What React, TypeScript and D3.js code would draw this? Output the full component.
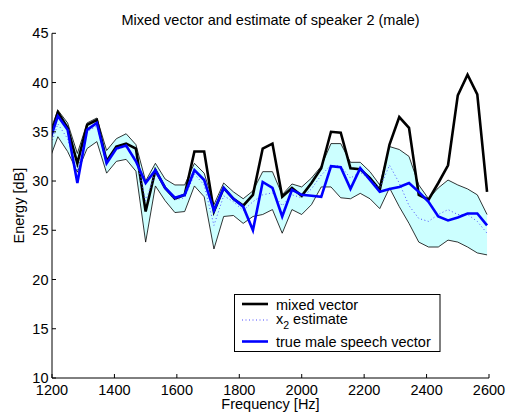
import React from 'react';
import * as d3 from 'd3';

// Frequency bins (Hz)
const freqs = [1187.5, 1218.75, 1250, 1281.25, 1312.5, 1343.75, 1375, 1406.25, 1437.5, 1468.75,
  1500, 1531.25, 1562.5, 1593.75, 1625, 1656.25, 1687.5, 1718.75, 1750, 1781.25,
  1812.5, 1843.75, 1875, 1906.25, 1937.5, 1968.75, 2000, 2031.25, 2062.5, 2093.75,
  2125, 2156.25, 2187.5, 2218.75, 2250, 2281.25, 2312.5, 2343.75, 2375, 2406.25,
  2437.5, 2468.75, 2500, 2531.25, 2562.5, 2593.75];

const mixedVector = [33.7, 37.0, 35.4, 31.8, 35.7, 36.2, 32.0, 33.5, 33.8, 33.3,
  26.9, 31.1, 29.3, 28.2, 28.6, 33.0, 33.0, 26.9, 29.3, 28.2,
  27.5, 28.6, 33.3, 33.8, 28.4, 29.3, 28.5, 29.8, 31.3, 35.0,
  34.9, 31.3, 31.2, 30.3, 29.1, 33.7, 36.5, 35.4, 28.6, 28.1,
  29.8, 31.6, 38.7, 40.8, 38.8, 28.9];

const trueMale = [33.6, 36.6, 35.2, 29.8, 35.2, 35.9, 31.8, 33.3, 33.6, 32.0,
  29.8, 31.1, 29.3, 28.3, 28.6, 31.1, 30.1, 27.0, 29.3, 28.2,
  27.4, 25.0, 29.9, 29.3, 26.4, 29.1, 28.6, 28.5, 28.4, 31.5,
  31.4, 29.2, 31.3, 30.1, 28.9, 29.2, 29.4, 29.8, 28.9, 27.9,
  26.4, 26.0, 26.3, 26.7, 26.7, 25.5];

const estimate = [32.8, 35.8, 34.3, 31.0, 35.0, 35.6, 32.0, 33.2, 33.5, 32.3,
  28.0, 30.8, 29.2, 28.1, 28.3, 30.7, 29.6, 25.5, 28.5, 27.9,
  27.0, 27.9, 28.6, 28.8, 27.5, 28.6, 28.3, 29.2, 30.6, 31.6,
  31.5, 30.3, 30.9, 30.1, 29.3, 31.6, 29.8, 27.5, 26.2, 25.9,
  26.6, 27.1, 26.6, 26.6, 25.9, 24.7];

const upperBound = [34.5, 37.2, 35.9, 32.8, 35.9, 36.4, 33.1, 34.3, 34.8, 33.7,
  30.0, 31.8, 30.2, 29.6, 29.6, 31.8, 30.8, 27.6, 29.8, 28.9,
  28.2, 29.0, 30.95, 30.95, 28.6, 29.7, 29.4, 30.3, 31.5, 33.8,
  33.8, 31.9, 31.9, 30.95, 29.6, 33.5, 33.2, 32.5, 29.6, 28.2,
  29.3, 30.1, 29.6, 29.2, 28.6, 26.6];

const lowerBound = [31.8, 34.5, 33.0, 30.9, 33.3, 34.0, 30.8, 32.0, 32.2, 31.0,
  23.8, 29.5, 28.0, 26.8, 26.9, 29.5, 28.4, 23.1, 26.4, 26.5,
  25.7, 26.4, 26.6, 27.1, 24.7, 27.1, 26.6, 27.6, 29.4, 29.4,
  28.3, 28.2, 28.75, 28.2, 27.2, 29.3, 27.4, 25.7, 23.8, 23.3,
  23.3, 24.0, 23.8, 23.3, 22.7, 22.5];

const xTicks = [1200, 1400, 1600, 1800, 2000, 2200, 2400, 2600];
const yTicks = [10, 15, 20, 25, 30, 35, 40, 45];

const FONT = '"Liberation Sans", Arial, Helvetica, sans-serif';

export default function App() {
  const W = 507, H = 414;
  const L = 52, R = 489, T = 33.3, B = 378;
  const x = d3.scaleLinear().domain([1200, 2600]).range([L, R]);
  const y = d3.scaleLinear().domain([10, 45]).range([B, T]);

  const lineGen = d3.line<number>().x((_, i) => x(freqs[i])).y(d => y(d));
  const areaGen = d3.area<number>()
    .x((_, i) => x(freqs[i]))
    .y0((_, i) => y(lowerBound[i]))
    .y1(d => y(d));

  const fs = 14.5;

  return (
    <svg width={W} height={H} style={{ position: 'absolute', left: 0, top: 0, background: '#fff' }}
      fontFamily={FONT}>
      <defs>
        <clipPath id="plotclip">
          <rect x={L} y={T} width={R - L} height={B - T} />
        </clipPath>
      </defs>
      <rect x={0} y={0} width={W} height={H} fill="#fff" />

      <g clipPath="url(#plotclip)">
        <path d={areaGen(upperBound) || ''} fill="#ccffff" stroke="none" />
        <path d={lineGen(upperBound) || ''} fill="none" stroke="#000" strokeWidth={0.8} />
        <path d={lineGen(lowerBound) || ''} fill="none" stroke="#000" strokeWidth={0.8} />
        <path d={lineGen(mixedVector) || ''} fill="none" stroke="#000" strokeWidth={2.6} />
        <path d={lineGen(estimate) || ''} fill="none" stroke="#4d4dff" strokeWidth={1} strokeDasharray="1,2.5" />
        <path d={lineGen(trueMale) || ''} fill="none" stroke="#0000ff" strokeWidth={2.6} />
      </g>

      {/* axes */}
      <line x1={L} y1={B} x2={R} y2={B} stroke="#000" strokeWidth={1} />
      <line x1={L} y1={T} x2={L} y2={B} stroke="#000" strokeWidth={1} />
      {xTicks.map(t => (
        <g key={'x' + t}>
          <line x1={x(t)} x2={x(t)} y1={B} y2={B - 4} stroke="#000" strokeWidth={1} />
          <text x={x(t)} y={394.5} textAnchor="middle" fontSize={fs} fill="#000">{t}</text>
        </g>
      ))}
      {yTicks.map(t => (
        <g key={'y' + t}>
          <line x1={L} x2={L + 4} y1={y(t)} y2={y(t)} stroke="#000" strokeWidth={1} />
          <text x={48.5} y={y(t) + 5} textAnchor="end" fontSize={fs} fill="#000">{t}</text>
        </g>
      ))}

      <text x={(L + R) / 2} y={24.5} textAnchor="middle" fontSize={fs} fill="#000">
        Mixed vector and estimate of speaker 2 (male)
      </text>
      <text x={(L + R) / 2} y={408.5} textAnchor="middle" fontSize={fs} fill="#000">Frequency [Hz]</text>
      <text transform={`translate(24,${(T + B) / 2}) rotate(-90)`} textAnchor="middle" fontSize={fs} fill="#000">
        Energy [dB]
      </text>

      {/* legend */}
      <rect x={234.5} y={294.5} width={205.5} height={57} fill="#fff" stroke="#000" strokeWidth={1} />
      <line x1={242} x2={268} y1={304} y2={304} stroke="#000" strokeWidth={2.6} />
      <text x={276} y={309.5} fontSize={fs} fill="#000">mixed vector</text>
      <line x1={242} x2={268} y1={320} y2={320} stroke="#4d4dff" strokeWidth={1} strokeDasharray="1,2.5" />
      <text x={276} y={323.5} fontSize={fs} fill="#000">
        x<tspan dy={5} fontSize={10.5}>2</tspan><tspan dy={-5}> estimate</tspan>
      </text>
      <line x1={242} x2={268} y1={341.5} y2={341.5} stroke="#0000ff" strokeWidth={2.6} />
      <text x={276} y={347} fontSize={fs} fill="#000">true male speech vector</text>
    </svg>
  );
}
